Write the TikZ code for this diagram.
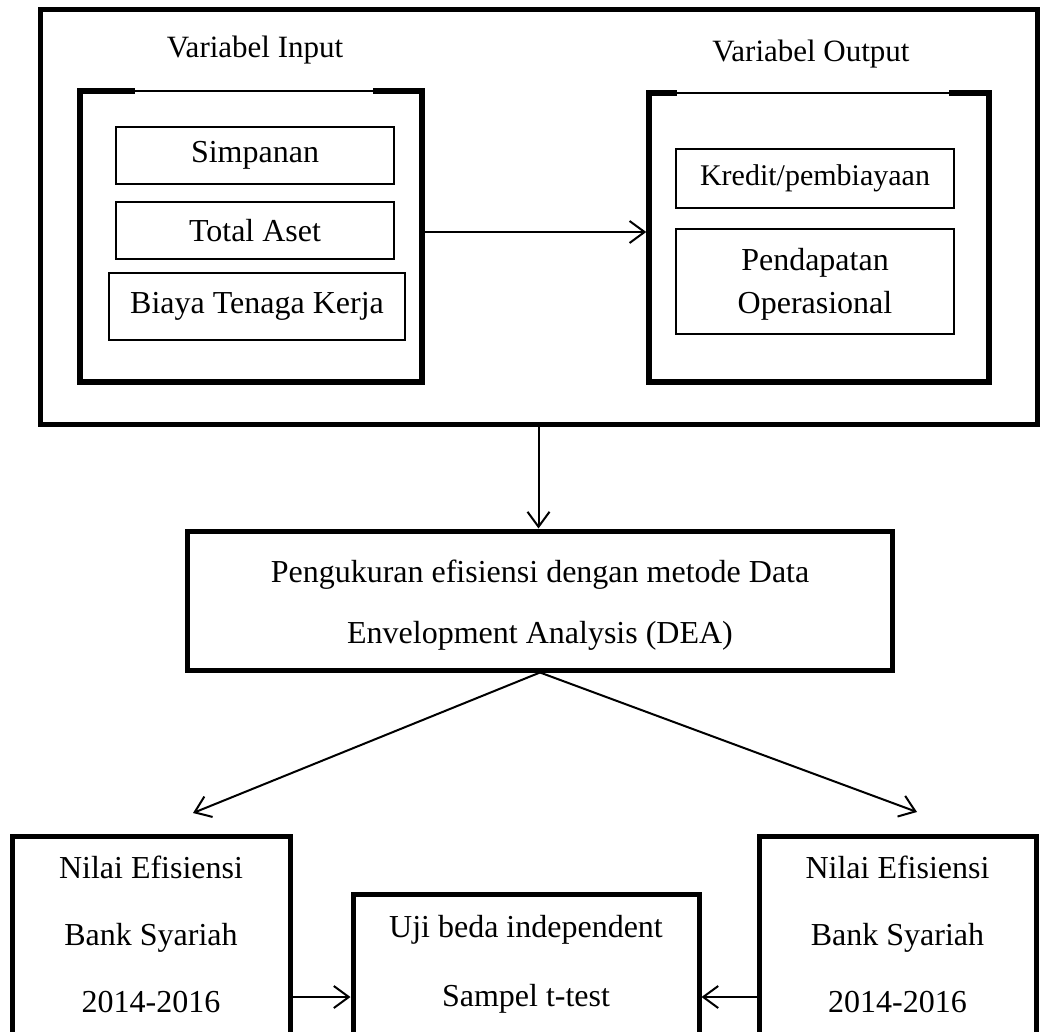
\documentclass[tikz,border=0pt]{standalone}
\usepackage{fontspec}
\setmainfont{Liberation Serif}
\usetikzlibrary{arrows.meta}

\begin{document}
\begin{tikzpicture}[x=1pt, y=-1pt,
    heavy/.style={draw, line width=5pt, inner sep=0pt},
    item/.style={draw, line width=1.2pt, inner sep=0pt, align=center,
      font=\fontsize{32}{42}\selectfont},
    lbl/.style={inner sep=0pt, anchor=base, font=\fontsize{32}{40}\selectfont},
    arr/.style={line width=2pt, -{Straight Barb[length=15pt, width=22pt]}}]
    \useasboundingbox (0, 0) rectangle (1043, 1032);
    \clip (0, 0) rectangle (1043, 1032);

    % upper frame with the two variable groups
    \node[heavy, minimum width=997, minimum height=414] (frame) at (538.5, 217) {};
    \node[lbl, font=\fontsize{31}{40}\selectfont] (inlbl) at (255, 58) {Variabel Input};
    \node[lbl, font=\fontsize{31}{40}\selectfont] (outlbl) at (811, 62) {Variabel Output};
    \node[heavy, line width=5.5pt, minimum width=342, minimum height=291] (inbox) at (251, 236.5) {};
    \node[heavy, line width=5.5pt, minimum width=340, minimum height=289] (outbox) at (819, 237.5) {};
    \draw[white, line width=6pt] (135, 91) -- (373, 91);
    \draw[line width=2.5pt] (135, 91) -- (373, 91);
    \draw[white, line width=6pt] (677, 93) -- (949, 93);
    \draw[line width=2.5pt] (677, 93) -- (949, 93);

    \node[item, minimum width=278, minimum height=57] (simpanan) at (255, 155.5) {Simpanan};
    \node[item, minimum width=278, minimum height=57] (aset) at (255, 230.5) {Total Aset};
    \node[item, minimum width=296, minimum height=67] (biaya) at (257, 306.5) {Biaya Tenaga Kerja};
    \node[item, minimum width=278, minimum height=59, font=\fontsize{30}{40}\selectfont] (kredit) at (815, 178.5) {Kredit/pembiayaan};
    \node[item, minimum width=278, minimum height=105] (pendapatan) at (815, 281.5) {};
    \node[lbl] (pend1) at (815, 270) {Pendapatan};
    \node[lbl] (pend2) at (815, 313) {Operasional};

    \draw[arr] ([yshift=4.5pt]inbox.east) -- ([yshift=4.5pt]inbox.east -| outbox.west);

    % DEA
    \node[heavy, minimum width=705, minimum height=139] (dea) at (540, 600.5) {};
    \node[lbl] (dea1) at (540, 582) {Pengukuran efisiensi dengan metode Data};
    \node[lbl] (dea2) at (540, 643) {Envelopment Analysis (DEA)};
    \draw[arr] (frame.south) -- (frame.south |- dea.north);

    % results and test
    \node[heavy, minimum width=278, minimum height=260] (nilaiL) at (151, 966) {};
    \node[heavy, minimum width=277, minimum height=260] (nilaiR) at (897.5, 966) {};
    \node[heavy, minimum width=346, minimum height=206] (uji) at (526, 997) {};
    \foreach \t [count=\i] in {Nilai Efisiensi, Bank Syariah, 2014-2016} {
      \node[lbl] (nl\i) at (151, 811+67*\i) {\t};
      \node[lbl] (nr\i) at (897.5, 811+67*\i) {\t};
    }
    \node[lbl] (uji1) at (526, 937) {Uji beda independent};
    \node[lbl] (uji2) at (526, 1006) {Sampel t-test};

    \coordinate (tipL) at (193, 813);
    \coordinate (tipR) at (917, 812);
    \draw[arr] (dea.south) -- (tipL);
    \draw[arr] (dea.south) -- (tipR);
    \draw[arr] (nilaiL.east |- uji.west) -- (uji.west);
    \draw[arr] (nilaiR.west |- uji.east) -- (uji.east);
\end{tikzpicture}
\end{document}
